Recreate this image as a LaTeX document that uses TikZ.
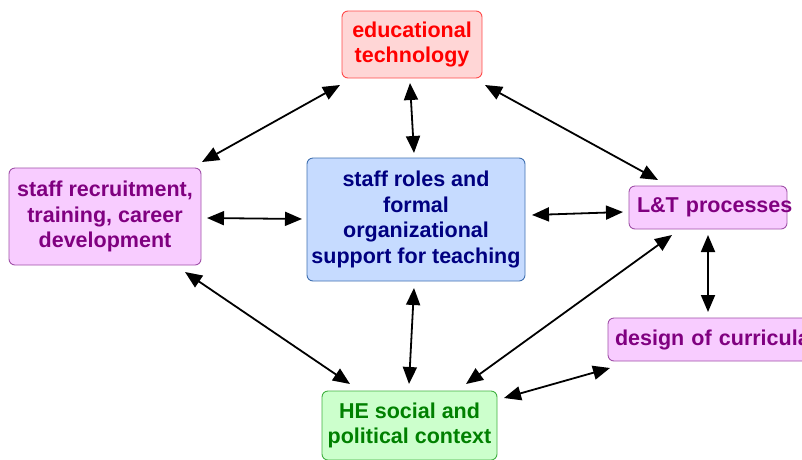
\documentclass[tikz,border=0pt]{standalone}
\usepackage{fontspec}
\setmainfont{Liberation Sans}
\usetikzlibrary{arrows.meta}

\definecolor{redtext}{HTML}{FF0000}
\definecolor{redfill}{HTML}{FFD6D6}
\definecolor{redline}{HTML}{FF4A4A}
\definecolor{purtext}{HTML}{800080}
\definecolor{purfill}{HTML}{F8CCFF}
\definecolor{purline}{HTML}{A050A8}
\definecolor{bluetext}{HTML}{000080}
\definecolor{bluefill}{HTML}{C6DBFF}
\definecolor{blueline}{HTML}{4070B0}
\definecolor{grntext}{HTML}{008000}
\definecolor{grnfill}{HTML}{CCFFCC}
\definecolor{grnline}{HTML}{40B040}

\tikzset{
  box/.style={rounded corners=6pt, line width=0.9pt, align=center,
    font=\fontsize{21.5}{25.5}\selectfont\bfseries, inner sep=0pt},
  redbox/.style={box, draw=redline, fill=redfill, text=redtext},
  purbox/.style={box, draw=purline, fill=purfill, text=purtext},
  bluebox/.style={box, draw=blueline, fill=bluefill, text=bluetext},
  grnbox/.style={box, draw=grnline, fill=grnfill, text=grntext},
  link/.style={line width=1.8pt, {Triangle[length=17pt,width=14pt]}-{Triangle[length=17pt,width=14pt]}},
}

\begin{document}
\begin{tikzpicture}[x=1pt, y=-1pt]
  \useasboundingbox (0,0) rectangle (802,459);

  % boxes
  \node[redbox, minimum width=140pt, minimum height=67pt] (edu) at (412,44.5)
    {educational\\technology};
  \node[purbox, minimum width=192pt, minimum height=97pt] (rec) at (105,216.5)
    {staff recruitment,\\training, career\\development};
  \node[bluebox, minimum width=218pt, minimum height=123pt] (roles) at (416,219.5)
    {staff roles and\\formal\\organizational\\support for teaching};
  \node[purbox, minimum width=158pt, minimum height=43pt, text width=142pt,
    align=left, inner xsep=8pt] (lt) at (708,207.5)
    {\mbox{L\&T processes}};
  \node[purbox, minimum width=210pt, minimum height=43pt, text width=196pt,
    align=left, inner xsep=7pt] (cur) at (713,339.5)
    {\mbox{design of curricula}};
  \node[grnbox, minimum width=175pt, minimum height=69pt] (he) at (409.5,425.5)
    {HE social and\\political context};

  % connector end points
  \coordinate (edu-rec) at (340,85);   \coordinate (rec-edu) at (202,162);
  \coordinate (edu-roles) at (410,83); \coordinate (roles-edu) at (414,153);
  \coordinate (edu-lt) at (485,85);    \coordinate (lt-edu) at (658,180);
  \coordinate (rec-roles) at (207,218);\coordinate (roles-rec) at (302,219);
  \coordinate (roles-lt) at (532,215); \coordinate (lt-roles) at (623,212);
  \coordinate (rec-he) at (185,272);   \coordinate (he-rec) at (350,384);
  \coordinate (roles-he) at (414,288); \coordinate (he-roles) at (409,384);
  \coordinate (lt-he) at (672,235);    \coordinate (he-lt) at (466,384);
  \coordinate (lt-cur) at (708,235);   \coordinate (cur-lt) at (708,312);
  \coordinate (cur-he) at (610,368);   \coordinate (he-cur) at (504,398);

  % connectors
  \draw[link] (edu-rec) -- (rec-edu);
  \draw[link] (edu-roles) -- (roles-edu);
  \draw[link] (edu-lt) -- (lt-edu);
  \draw[link] (rec-roles) -- (roles-rec);
  \draw[link] (roles-lt) -- (lt-roles);
  \draw[link] (rec-he) -- (he-rec);
  \draw[link] (roles-he) -- (he-roles);
  \draw[link] (lt-he) -- (he-lt);
  \draw[link] (lt-cur) -- (cur-lt);
  \draw[link] (cur-he) -- (he-cur);
\end{tikzpicture}
\end{document}
